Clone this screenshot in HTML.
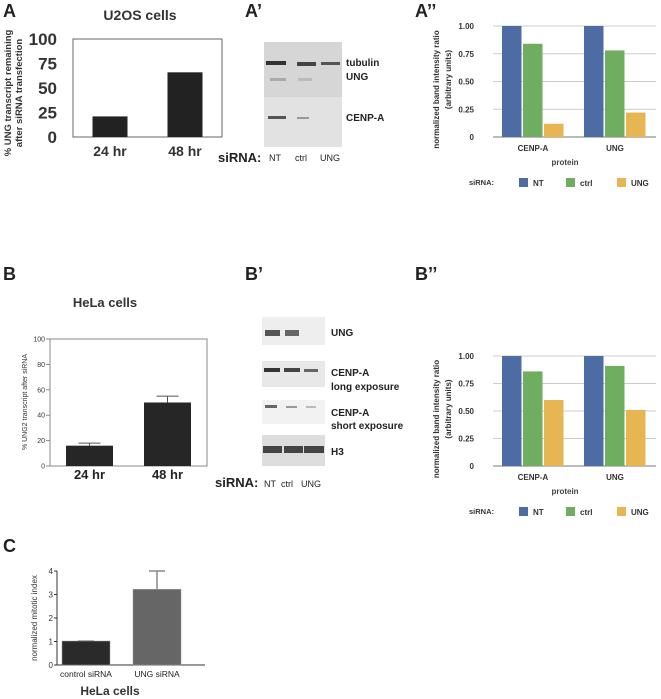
<!DOCTYPE html>
<html><head><meta charset="utf-8"><style>
html,body{margin:0;padding:0;background:#fff;}
svg{display:block;font-family:"Liberation Sans",Arial,sans-serif;}
</style></head><body>
<svg id="fig" width="661" height="699" viewBox="0 0 661 699" xmlns="http://www.w3.org/2000/svg">
<text x="3" y="17" font-size="18" font-weight="bold" fill="#222">A</text>
<text x="245" y="17" font-size="18" font-weight="bold" fill="#222">A’</text>
<text x="415" y="17" font-size="18" font-weight="bold" fill="#222">A’’</text>
<text x="3" y="280" font-size="18" font-weight="bold" fill="#222">B</text>
<text x="245" y="280" font-size="18" font-weight="bold" fill="#222">B’</text>
<text x="415" y="280" font-size="18" font-weight="bold" fill="#222">B’’</text>
<text x="3" y="552" font-size="18" font-weight="bold" fill="#222">C</text>

<text x="140" y="20" font-size="14" font-weight="bold" fill="#333" text-anchor="middle">U2OS cells</text>
<g id="chartA"></g>
<text transform="translate(11,93) rotate(-90)" font-size="9.5" font-weight="bold" fill="#333" text-anchor="middle">% UNG transcript remaining</text>
<text transform="translate(22,93) rotate(-90)" font-size="9.5" font-weight="bold" fill="#333" text-anchor="middle">after siRNA transfection</text>

<g>
<rect x="264" y="42" width="78" height="105" fill="#d6d6d6"/>
<rect x="264" y="97" width="78" height="50" fill="#e2e2e2"/>
<rect x="266" y="61" width="20" height="4" fill="#333"/><rect x="297" y="62" width="19" height="4" fill="#444"/><rect x="321" y="62" width="19" height="3" fill="#555"/>
<rect x="270" y="78" width="16" height="3" fill="#aaa"/><rect x="298" y="78" width="14" height="3" fill="#bbb"/>
<rect x="268" y="116" width="18" height="3" fill="#555"/><rect x="297" y="117" width="12" height="2" fill="#999"/>
</g>
<text x="346" y="66" font-size="10" font-weight="bold" fill="#222">tubulin</text>
<text x="346" y="80" font-size="10" font-weight="bold" fill="#222">UNG</text>
<text x="346" y="121" font-size="10" font-weight="bold" fill="#222">CENP-A</text>
<text x="218" y="162" font-size="13" font-weight="bold" fill="#222">siRNA:</text>
<text x="269" y="161" font-size="9" fill="#222">NT</text>
<text x="295" y="161" font-size="9" fill="#222">ctrl</text>
<text x="320" y="161" font-size="9" fill="#222">UNG</text>

<g id="chartA2"></g>
<text x="105" y="307" font-size="13" font-weight="bold" fill="#333" text-anchor="middle">HeLa cells</text>
<g id="chartB"></g>
<text transform="translate(27,402) rotate(-90)" font-size="7" fill="#333" text-anchor="middle">% UNG2 transcript after siRNA</text>

<g>
<rect x="262" y="317" width="63" height="28" fill="#eee"/>
<rect x="265" y="330" width="15" height="6" fill="#555"/><rect x="285" y="330" width="14" height="6" fill="#666"/>
<rect x="262" y="361" width="63" height="26" fill="#e8e8e8"/>
<rect x="264" y="368" width="16" height="4" fill="#333"/><rect x="284" y="368" width="16" height="4" fill="#444"/><rect x="304" y="369" width="14" height="3" fill="#666"/>
<rect x="262" y="400" width="63" height="24" fill="#f2f2f2"/>
<rect x="265" y="405" width="12" height="3" fill="#666"/><rect x="286" y="406" width="11" height="2" fill="#999"/><rect x="306" y="406" width="10" height="2" fill="#bbb"/>
<rect x="262" y="435" width="63" height="31" fill="#ddd"/>
<rect x="263" y="446" width="19" height="7" fill="#444"/><rect x="284" y="446" width="19" height="7" fill="#444"/><rect x="304" y="446" width="20" height="7" fill="#444"/>
</g>
<text x="331" y="336" font-size="10" font-weight="bold" fill="#222">UNG</text>
<text x="331" y="376" font-size="10" font-weight="bold" fill="#222">CENP-A</text>
<text x="331" y="390" font-size="10" font-weight="bold" fill="#222">long exposure</text>
<text x="331" y="416" font-size="10" font-weight="bold" fill="#222">CENP-A</text>
<text x="331" y="429" font-size="10" font-weight="bold" fill="#222">short exposure</text>
<text x="331" y="455" font-size="10" font-weight="bold" fill="#222">H3</text>
<text x="215" y="487" font-size="13" font-weight="bold" fill="#222">siRNA:</text>
<text x="264" y="487" font-size="9" fill="#222">NT</text>
<text x="281" y="487" font-size="9" fill="#222">ctrl</text>
<text x="301" y="487" font-size="9" fill="#222">UNG</text>

<g id="chartB2"></g>
<g id="chartC"></g>
<text transform="translate(37,618) rotate(-90)" font-size="8" fill="#333" text-anchor="middle">normalized mitotic index</text>
<text x="110" y="695" font-size="12" font-weight="bold" fill="#333" text-anchor="middle">HeLa cells</text>
</svg>
<script>
// Chart A data
const aCats = ["24 hr", "48 hr"];
const aVals = [21, 66];
const aTicks = [0, 25, 50, 75, 100];
// Chart A'' data
const a2Cats = ["CENP-A", "UNG"];
const a2NT = [1.0, 1.0];
const a2Ctrl = [0.84, 0.78];
const a2UNG = [0.12, 0.22];
const dblTicks = [0, 0.25, 0.5, 0.75, 1.0];
const dblTickLabels = ["0", "0.25", "0.50", "0.75", "1.00"];
// Chart B data
const bCats = ["24 hr", "48 hr"];
const bVals = [16, 50];
const bErr = [18, 55];
const bTicks = [0, 20, 40, 60, 80, 100];
// Chart B'' data
const b2Cats = ["CENP-A", "UNG"];
const b2NT = [1.0, 1.0];
const b2Ctrl = [0.86, 0.91];
const b2UNG = [0.60, 0.51];
// Chart C data
const cCats = ["control siRNA", "UNG siRNA"];
const cVals = [1.02, 3.22];
const cErr = [1.02, 4.0];
const cTicks = [0, 1, 2, 3, 4];

const NS = "http://www.w3.org/2000/svg";
function mk(parent, tag, attrs, text){
  const e = document.createElementNS(NS, tag);
  for (const k in attrs) e.setAttribute(k, attrs[k]);
  if (text !== undefined) e.textContent = text;
  parent.appendChild(e);
  return e;
}
function lin(d0,d1,r0,r1){return v => r0 + (v-d0)/(d1-d0)*(r1-r0);}

(function(){
  const g = document.getElementById('chartA');
  const y = lin(0,100,137,39);
  const x0 = 73, x1 = 222, bw = 35;
  const cx = [110, 185];
  const fr = mk(g,'rect',{x:x0,y:39,width:x1-x0,height:98,fill:'none',stroke:'#666','stroke-width':1});
  
  
  aTicks.forEach(t=>{
    const tl = mk(g,'text',{x:57,y:y(t)+6,'font-size':17,'font-weight':'bold','text-anchor':'end',fill:'#333'},String(t));
    
    
  });
  aVals.forEach((v,i)=>{
    const b = mk(g,'rect',{x:cx[i]-bw/2,y:y(v),width:bw,height:y(0)-y(v),fill:'#222'});
    
    
    const l = mk(g,'text',{x:cx[i],y:156,'font-size':14,'font-weight':'bold','text-anchor':'middle',fill:'#333'},aCats[i]);
    
    
  });
})();

function grouped(id, top, bottom, cats, nt, ctrl, ung, prefix){
  const g = document.getElementById(id);
  const y = lin(0,1,bottom,top);
  const colors = ['#4d6ca3','#6fae5e','#e8b553'];
  const series = [nt, ctrl, ung];
  const names = ['NT','ctrl','UNG'];
  dblTicks.forEach((t,i)=>{
    const gl = mk(g,'line',{x1:493,x2:656,y1:y(t),y2:y(t),stroke: t===0?'#777':'#ccc','stroke-width':1});
    
    
    const tl = mk(g,'text',{x:474,y:y(t)+3,'font-size':8,'font-weight':'bold','text-anchor':'end',fill:'#333'},dblTickLabels[i]);
    
    
  });
  const groupStart = [502, 584], bw = 19.5, step = 21;
  cats.forEach((c,ci)=>{
    series.forEach((s,si)=>{
      const b = mk(g,'rect',{x:groupStart[ci]+si*step,y:y(s[ci]),width:bw,height:y(0)-y(s[ci]),fill:colors[si]});
      
      
    });
    const l = mk(g,'text',{x:groupStart[ci]+31,y:bottom+14,'font-size':8,'font-weight':'bold','text-anchor':'middle',fill:'#333'},c);
    
    
  });
  const pt = mk(g,'text',{x:565,y:bottom+28,'font-size':8,'font-weight':'bold','text-anchor':'middle',fill:'#444'},'protein');
  
  
  const cy = (top+bottom)/2;
  const yt1 = mk(g,'text',{transform:'translate(439,'+(cy+8)+') rotate(-90)','font-size':8,'font-weight':'bold','text-anchor':'middle',fill:'#333'},'normalized band intensity ratio');
  
  
  const yt2 = mk(g,'text',{transform:'translate(451,'+(cy-2)+') rotate(-90)','font-size':8,'font-weight':'bold','text-anchor':'middle',fill:'#333'},'(arbitrary units)');
  
  
  const ly = bottom+45;
  const ls = mk(g,'text',{x:469,y:ly+3,'font-size':7.5,'font-weight':'bold',fill:'#333'},'siRNA:');
  
  
  const lx = [519,566,617];
  names.forEach((n,i)=>{
    const sw = mk(g,'rect',{x:lx[i],y:ly-4,width:9,height:9,fill:colors[i]});
    
    
    const lt = mk(g,'text',{x:lx[i]+14,y:ly+4,'font-size':8,'font-weight':'bold',fill:'#333'},n);
    
    
  });
}
grouped('chartA2', 26, 137, a2Cats, a2NT, a2Ctrl, a2UNG, 'chart-a2');
grouped('chartB2', 356, 466, b2Cats, b2NT, b2Ctrl, b2UNG, 'chart-b2');

(function(){
  const g = document.getElementById('chartB');
  const y = lin(0,100,466,339);
  const cx = [89.5, 167.5], bw = 47;
  const fr = mk(g,'rect',{x:50,y:339,width:157,height:127,fill:'none',stroke:'#888','stroke-width':1});
  
  
  bTicks.forEach(t=>{
    const tk = mk(g,'line',{x1:46,x2:50,y1:y(t),y2:y(t),stroke:'#888'});
    
    
    const tl = mk(g,'text',{x:45,y:y(t)+2.5,'font-size':7,'text-anchor':'end',fill:'#333'},String(t));
    
    
  });
  bVals.forEach((v,i)=>{
    const e = mk(g,'path',{d:'M'+cx[i]+' '+y(v)+' V'+y(bErr[i])+' M'+(cx[i]-11)+' '+y(bErr[i])+' H'+(cx[i]+11),stroke:'#555',fill:'none'});
    
    
    const b = mk(g,'rect',{x:cx[i]-bw/2,y:y(v),width:bw,height:y(0)-y(v),fill:'#262626'});
    
    
    const l = mk(g,'text',{x:cx[i],y:479,'font-size':13,'font-weight':'bold','text-anchor':'middle',fill:'#222'},bCats[i]);
    
    
  });
})();

(function(){
  const g = document.getElementById('chartC');
  const y = lin(0,4,665,571);
  const cx = [86, 157], bw = 48;
  const ax = mk(g,'path',{d:'M57 571 V665 H205',stroke:'#333',fill:'none'});
  
  
  cTicks.forEach(t=>{
    const tk = mk(g,'line',{x1:54,x2:57,y1:y(t),y2:y(t),stroke:'#333'});
    
    
    const tl = mk(g,'text',{x:53,y:y(t)+3,'font-size':8,'text-anchor':'end',fill:'#333'},String(t));
    
    
  });
  const fills = ['#2a2a2a','#666'];
  cVals.forEach((v,i)=>{
    const e = mk(g,'path',{d:'M'+cx[i]+' '+y(v)+' V'+y(cErr[i])+' M'+(cx[i]-8)+' '+y(cErr[i])+' H'+(cx[i]+8),stroke:'#888','stroke-width':1.5,fill:'none'});
    
    
    const b = mk(g,'rect',{x:cx[i]-bw/2,y:y(v),width:bw,height:y(0)-y(v),fill:fills[i],stroke:'#999','stroke-width':0.5});
    
    
    const l = mk(g,'text',{x:cx[i],y:677,'font-size':8.5,'text-anchor':'middle',fill:'#222'},cCats[i]);
    
    
  });
})();
</script>
</body></html>
